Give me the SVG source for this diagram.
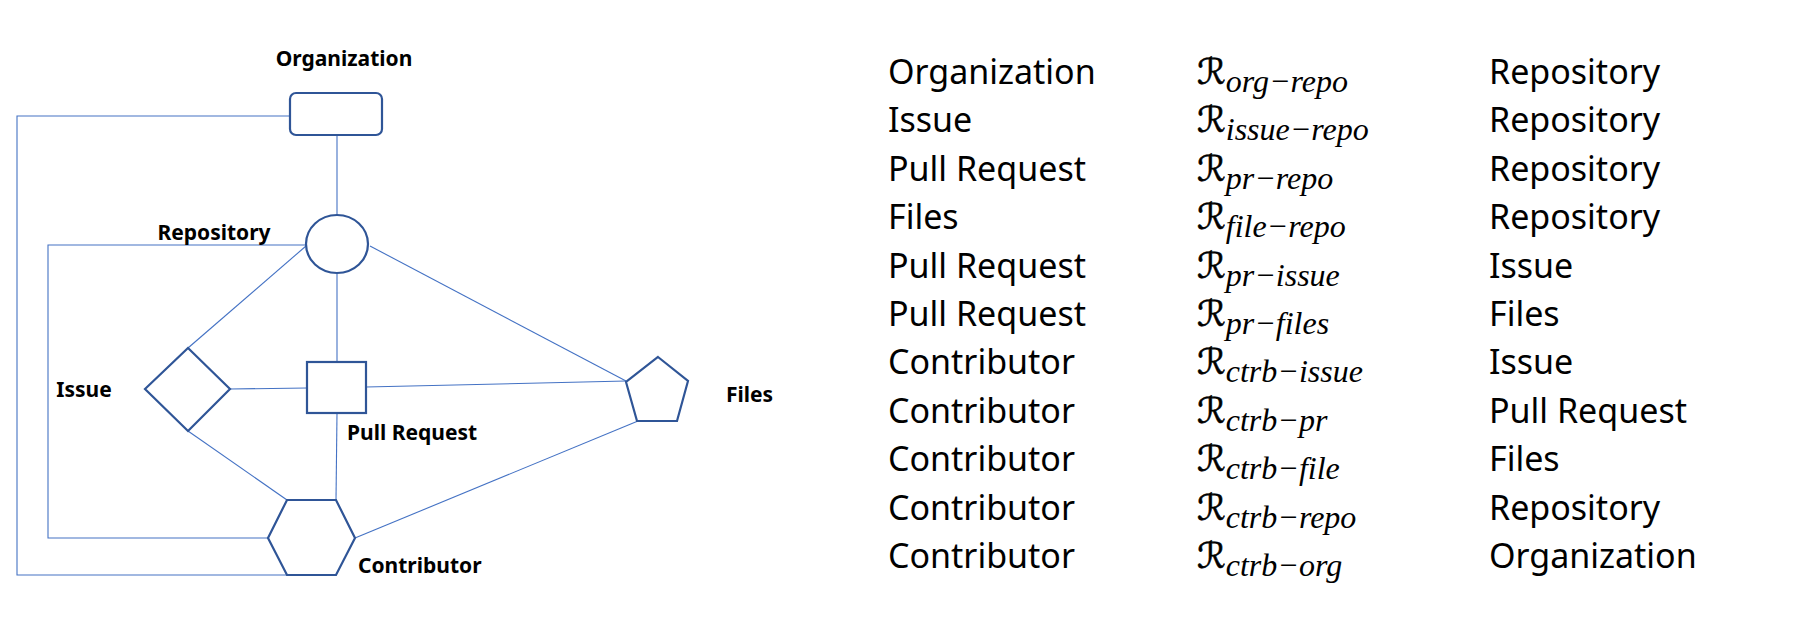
<svg xmlns="http://www.w3.org/2000/svg" width="1799" height="639" viewBox="0 0 1799 639">
<style>
.node{fill:#fff;stroke:#2F5597;stroke-width:2.2}
.conn{fill:none;stroke:#4472C4;stroke-width:1.1}
.lbl{font-family:"Noto Sans","Liberation Sans",sans-serif;font-weight:700;font-size:21px;fill:#000}
.t{font-family:"Noto Sans","Liberation Sans",sans-serif;font-size:34px;fill:#000}
.r{font-family:"DejaVu Sans","Liberation Serif",serif;font-size:36px;fill:#000;stroke:#000;stroke-width:0.6}
.s{font-family:"Liberation Serif","DejaVu Serif",serif;font-style:italic;font-size:32px;stroke:none}
</style>
<rect width="1799" height="639" fill="#fff"/>
<g id="connectors">
<polyline class="conn" points="290,116 17,116 17,575 287,575"/>
<polyline class="conn" points="306,245 48,245 48,538 268,538"/>
<line class="conn" x1="337" y1="135" x2="337" y2="215"/>
<line class="conn" x1="306" y1="246" x2="188" y2="348"/>
<line class="conn" x1="370" y1="246" x2="626" y2="381"/>
<line class="conn" x1="337" y1="274" x2="337" y2="362"/>
<line class="conn" x1="230" y1="389" x2="307" y2="388"/>
<line class="conn" x1="366" y1="387" x2="626" y2="381"/>
<line class="conn" x1="188" y1="431" x2="287" y2="500"/>
<line class="conn" x1="337" y1="413" x2="336" y2="500"/>
<line class="conn" x1="638" y1="421" x2="355" y2="538"/>
</g>
<g id="organization">
<rect class="node" x="290" y="93" width="92" height="42" rx="6"/>
<text class="lbl" x="344" y="66" text-anchor="middle">Organization</text>
</g>
<g id="repository">
<ellipse class="node" cx="337" cy="244" rx="31" ry="29"/>
<text class="lbl" x="214" y="240" text-anchor="middle">Repository</text>
</g>
<g id="issue">
<polygon class="node" points="145,389 188,348 230,389 188,431"/>
<text class="lbl" x="84" y="397" text-anchor="middle">Issue</text>
</g>
<g id="pullrequest">
<rect class="node" x="307" y="362" width="59" height="51"/>
<text class="lbl" x="347" y="440">Pull Request</text>
</g>
<g id="files">
<polygon class="node" points="658,357 688,381 677,421 637,421 626,382"/>
<text class="lbl" x="726" y="402">Files</text>
</g>
<g id="contributor">
<polygon class="node" points="287,500 336,500 355,538 336,575 287,575 268,538"/>
<text class="lbl" x="358" y="573">Contributor</text>
</g>
<g id="table">
<text class="t" x="888" y="84">Organization</text>
<text class="r" x="1197" y="84">ℛ<tspan class="s" dy="8">org−repo</tspan></text>
<text class="t" x="1489" y="84">Repository</text>
<text class="t" x="888" y="132">Issue</text>
<text class="r" x="1197" y="132">ℛ<tspan class="s" dy="8">issue−repo</tspan></text>
<text class="t" x="1489" y="132">Repository</text>
<text class="t" x="888" y="181">Pull Request</text>
<text class="r" x="1197" y="181">ℛ<tspan class="s" dy="8">pr−repo</tspan></text>
<text class="t" x="1489" y="181">Repository</text>
<text class="t" x="888" y="229">Files</text>
<text class="r" x="1197" y="229">ℛ<tspan class="s" dy="8">file−repo</tspan></text>
<text class="t" x="1489" y="229">Repository</text>
<text class="t" x="888" y="278">Pull Request</text>
<text class="r" x="1197" y="278">ℛ<tspan class="s" dy="8">pr−issue</tspan></text>
<text class="t" x="1489" y="278">Issue</text>
<text class="t" x="888" y="326">Pull Request</text>
<text class="r" x="1197" y="326">ℛ<tspan class="s" dy="8">pr−files</tspan></text>
<text class="t" x="1489" y="326">Files</text>
<text class="t" x="888" y="374">Contributor</text>
<text class="r" x="1197" y="374">ℛ<tspan class="s" dy="8">ctrb−issue</tspan></text>
<text class="t" x="1489" y="374">Issue</text>
<text class="t" x="888" y="423">Contributor</text>
<text class="r" x="1197" y="423">ℛ<tspan class="s" dy="8">ctrb−pr</tspan></text>
<text class="t" x="1489" y="423">Pull Request</text>
<text class="t" x="888" y="471">Contributor</text>
<text class="r" x="1197" y="471">ℛ<tspan class="s" dy="8">ctrb−file</tspan></text>
<text class="t" x="1489" y="471">Files</text>
<text class="t" x="888" y="520">Contributor</text>
<text class="r" x="1197" y="520">ℛ<tspan class="s" dy="8">ctrb−repo</tspan></text>
<text class="t" x="1489" y="520">Repository</text>
<text class="t" x="888" y="568">Contributor</text>
<text class="r" x="1197" y="568">ℛ<tspan class="s" dy="8">ctrb−org</tspan></text>
<text class="t" x="1489" y="568">Organization</text>
</g>
</svg>
